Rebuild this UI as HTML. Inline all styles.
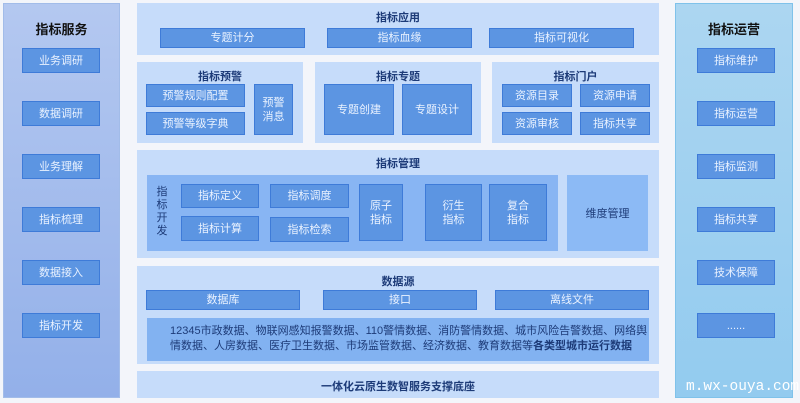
<!DOCTYPE html>
<html><head><meta charset="utf-8"><style>
*{margin:0;padding:0;box-sizing:border-box}
body{width:800px;height:403px;background:#f3f5fa;position:relative;overflow:hidden;font-family:"Liberation Sans","Noto Sans CJK SC",sans-serif}
div{position:absolute}
.sec{background:#c6dcfa}
.t{font-weight:bold;color:#1d3b78;font-size:11px;text-align:center;width:100%}
.b{background:#5c95e2;border:1.5px solid #3e7bd8;color:#eaf2ff;font-size:11px;display:flex;align-items:center;justify-content:center;text-align:center;line-height:14px}
</style></head><body>
<div style="left:3px;top:3px;width:117px;height:395px;background:linear-gradient(#b4c8f0,#93b0e9);border:1px solid #a2bce9"></div>
<div class="t" style="left:3px;top:19px;width:117px;font-size:13px;color:#111">指标服务</div>
<div class="b" style="left:22px;top:48px;width:78px;height:25px">业务调研</div>
<div class="b" style="left:22px;top:101px;width:78px;height:25px">数据调研</div>
<div class="b" style="left:22px;top:154px;width:78px;height:25px">业务理解</div>
<div class="b" style="left:22px;top:207px;width:78px;height:25px">指标梳理</div>
<div class="b" style="left:22px;top:260px;width:78px;height:25px">数据接入</div>
<div class="b" style="left:22px;top:313px;width:78px;height:25px">指标开发</div>

<div style="left:675px;top:3px;width:118px;height:395px;background:linear-gradient(#acd6f1,#93cbef);border:1px solid #7fc2ea"></div>
<div class="t" style="left:675px;top:19px;width:118px;font-size:13px;color:#111">指标运营</div>
<div class="b" style="left:697px;top:48px;width:78px;height:25px">指标维护</div>
<div class="b" style="left:697px;top:101px;width:78px;height:25px">指标运营</div>
<div class="b" style="left:697px;top:154px;width:78px;height:25px">指标监测</div>
<div class="b" style="left:697px;top:207px;width:78px;height:25px">指标共享</div>
<div class="b" style="left:697px;top:260px;width:78px;height:25px">技术保障</div>
<div class="b" style="left:697px;top:313px;width:78px;height:25px">......</div>

<div class="sec" style="left:137px;top:3px;width:522px;height:52px"></div>
<div class="t" style="left:137px;top:9px;width:522px">指标应用</div>
<div class="b" style="left:160px;top:28px;width:145px;height:20px">专题计分</div>
<div class="b" style="left:327px;top:28px;width:145px;height:20px">指标血缘</div>
<div class="b" style="left:489px;top:28px;width:145px;height:20px">指标可视化</div>

<div class="sec" style="left:137px;top:62px;width:166px;height:81px"></div>
<div class="t" style="left:137px;top:68px;width:166px">指标预警</div>
<div class="b" style="left:146px;top:84px;width:99px;height:23px">预警规则配置</div>
<div class="b" style="left:146px;top:112px;width:99px;height:23px">预警等级字典</div>
<div class="b" style="left:254px;top:84px;width:39px;height:51px">预警<br>消息</div>

<div class="sec" style="left:315px;top:62px;width:166px;height:81px"></div>
<div class="t" style="left:315px;top:68px;width:166px">指标专题</div>
<div class="b" style="left:324px;top:84px;width:70px;height:51px">专题创建</div>
<div class="b" style="left:402px;top:84px;width:70px;height:51px">专题设计</div>

<div class="sec" style="left:492px;top:62px;width:167px;height:81px"></div>
<div class="t" style="left:492px;top:68px;width:167px">指标门户</div>
<div class="b" style="left:502px;top:84px;width:70px;height:23px">资源目录</div>
<div class="b" style="left:580px;top:84px;width:70px;height:23px">资源申请</div>
<div class="b" style="left:502px;top:112px;width:70px;height:23px">资源审核</div>
<div class="b" style="left:580px;top:112px;width:70px;height:23px">指标共享</div>

<div class="sec" style="left:137px;top:150px;width:522px;height:108px"></div>
<div class="t" style="left:137px;top:155px;width:522px">指标管理</div>
<div style="left:147px;top:175px;width:411px;height:76px;background:#88b5f3"></div>
<div style="left:567px;top:175px;width:81px;height:76px;background:#8cbaf5;color:#1d3b78;font-size:11px;display:flex;align-items:center;justify-content:center">维度管理</div>
<div style="left:155px;top:186px;width:14px;font-size:11px;line-height:13px;color:#1d3b78;text-align:center">指<br>标<br>开<br>发</div>
<div class="b" style="left:181px;top:184px;width:78px;height:24px">指标定义</div>
<div class="b" style="left:270px;top:184px;width:79px;height:24px">指标调度</div>
<div class="b" style="left:181px;top:216px;width:78px;height:25px">指标计算</div>
<div class="b" style="left:270px;top:217px;width:79px;height:25px">指标检索</div>
<div class="b" style="left:359px;top:184px;width:44px;height:57px">原子<br>指标</div>
<div class="b" style="left:425px;top:184px;width:57px;height:57px">衍生<br>指标</div>
<div class="b" style="left:489px;top:184px;width:58px;height:57px">复合<br>指标</div>

<div class="sec" style="left:137px;top:266px;width:522px;height:98px"></div>
<div class="t" style="left:137px;top:273px;width:522px">数据源</div>
<div class="b" style="left:146px;top:290px;width:154px;height:20px">数据库</div>
<div class="b" style="left:323px;top:290px;width:154px;height:20px">接口</div>
<div class="b" style="left:495px;top:290px;width:154px;height:20px">离线文件</div>
<div style="left:147px;top:318px;width:502px;height:43px;background:#82b2f1;color:#1d3b78;font-size:11px;line-height:15px;padding:6px 0 0 23px">12345市政数据、物联网感知报警数据、110警情数据、消防警情数据、城市风险告警数据、网络舆<br>情数据、人房数据、医疗卫生数据、市场监管数据、经济数据、教育数据等<b>各类型城市运行数据</b></div>

<div class="sec" style="left:137px;top:371px;width:522px;height:27px"></div>
<div class="t" style="left:137px;top:378px;width:522px">一体化云原生数智服务支撑底座</div>

<div style="left:686px;top:379px;font-family:'Liberation Mono',monospace;font-size:14.5px;color:#fff;white-space:nowrap">m.wx-ouya.com</div>
</body></html>
